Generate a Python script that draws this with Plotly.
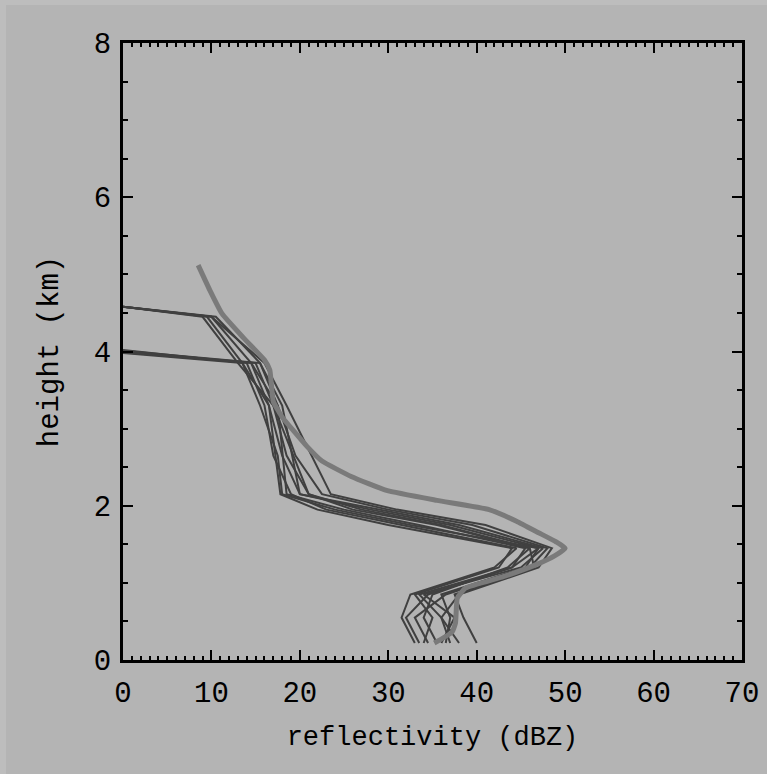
import plotly.graph_objects as go

# Mean profile (thick light line)
mean_dbz = [8.5, 9.8, 11.2, 13.6, 16.0, 16.6, 17.0, 18.0, 19.3, 20.8, 22.5, 25.8, 29.8, 35.5, 41.4, 44.5,
            47.0, 49.0, 50.0, 48.8, 47.0, 43.0, 38.7, 37.8, 37.6, 37.2, 35.2]
mean_hgt = [5.12, 4.80, 4.49, 4.18, 3.89, 3.76, 3.35, 3.15, 2.97, 2.77, 2.58, 2.38, 2.20, 2.07, 1.95, 1.80,
            1.65, 1.53, 1.45, 1.35, 1.25, 1.08, 0.93, 0.80, 0.48, 0.36, 0.22]

# Individual profiles (thin dark lines)
hgt_a = [4.58, 4.45, 3.85, 3.3, 2.15, 1.95, 1.75, 1.45, 1.2, 0.85, 0.55, 0.22]
hgt_b = [4.0, 3.85, 3.3, 2.65, 2.15, 1.95, 1.75, 1.45, 1.2, 0.85, 0.55, 0.22]
profiles_a = [
    [0, 9.5, 13.5, 16.5, 17.8, 22.0, 30.0, 44.0, 42.5, 33.0, 35.0, 34.0],
    [0, 10.0, 14.5, 17.5, 18.5, 25.0, 33.5, 45.5, 44.0, 34.5, 32.0, 33.5],
    [0, 10.5, 15.5, 18.0, 20.0, 28.0, 37.0, 47.0, 45.5, 36.0, 37.0, 36.5],
    [0, 9.0, 13.0, 17.0, 21.0, 26.0, 35.5, 46.0, 46.5, 37.5, 38.5, 40.0],
    [0, 10.0, 16.0, 18.5, 23.5, 31.0, 41.0, 48.5, 47.0, 38.0, 36.0, 37.0],
]
profiles_b = [
    [0, 14.0, 16.0, 17.0, 19.0, 23.0, 31.5, 44.5, 42.0, 32.5, 31.5, 33.0],
    [0, 15.0, 17.0, 18.5, 21.0, 27.0, 36.0, 46.0, 43.5, 35.0, 34.0, 35.5],
    [0, 13.5, 15.5, 17.5, 18.0, 24.0, 32.5, 47.0, 44.0, 33.5, 36.0, 38.0],
    [0, 15.5, 17.5, 19.5, 22.5, 30.0, 39.5, 48.0, 46.0, 36.5, 33.0, 34.5],
    [0, 14.5, 16.5, 18.0, 20.0, 29.0, 38.0, 47.5, 45.0, 34.0, 37.5, 36.0],
]
b_top_offsets = [0.02, 0.0, -0.02, 0.01, -0.01]

x_ticks = [0, 10, 20, 30, 40, 50, 60, 70]
y_ticks = [0, 2, 4, 6, 8]

BG = "#b4b4b4"
DARK = "#404040"
LIGHT = "#7a7a7a"
FONT = "Liberation Mono"

fig = go.Figure()
for p in profiles_a:
    fig.add_trace(go.Scatter(x=p, y=hgt_a, mode="lines",
                             line=dict(color=DARK, width=2), hoverinfo="skip"))
for p, off in zip(profiles_b, b_top_offsets):
    h = [hgt_b[0] + off] + hgt_b[1:]
    fig.add_trace(go.Scatter(x=p, y=h, mode="lines",
                             line=dict(color=DARK, width=2), hoverinfo="skip"))
fig.add_trace(go.Scatter(x=mean_dbz, y=mean_hgt, mode="lines",
                         line=dict(color=LIGHT, width=5, shape="spline", smoothing=0.4),
                         hoverinfo="skip"))

W, H = 767, 774
L, R, T, B = 123, 25, 43, 114
pw, ph = W - L - R, H - T - B

fig.add_shape(type="rect", xref="paper", yref="paper", layer="below",
              x0=(6 - L) / pw, x1=(W - L + 5) / pw,
              y0=-(B + 5) / ph, y1=(ph + T - 5) / ph,
              fillcolor=BG, line=dict(width=0))

axis_common = dict(
    showgrid=False, zeroline=False, showline=True, linecolor="black",
    linewidth=3, mirror="ticks", ticks="inside", tickcolor="black",
    tickwidth=2, ticklen=10, automargin=False,
    tickfont=dict(family=FONT, size=29, color="black"),
)

fig.update_xaxes(range=[0, 70], tickvals=x_ticks, ticktext=[str(v) for v in x_ticks],
                 minor=dict(dtick=1, ticks="inside", ticklen=4, tickwidth=2, tickcolor="black"),
                 ticklabelstandoff=4,
                 title=dict(text="reflectivity (dBZ)", font=dict(family=FONT, size=27, color="black"), standoff=17),
                 **axis_common)
fig.update_yaxes(range=[0, 8], tickvals=y_ticks, ticktext=[str(v) for v in y_ticks],
                 minor=dict(dtick=0.5, ticks="inside", ticklen=5, tickwidth=2, tickcolor="black"),
                 ticklabelstandoff=3,
                 title=dict(text="height (km)", font=dict(family=FONT, size=29, color="black"), standoff=27),
                 **axis_common)

fig.update_layout(
    width=W, height=H, showlegend=False,
    margin=dict(l=L, r=R, t=T, b=B, pad=0),
    paper_bgcolor="#bdbdbd", plot_bgcolor="rgba(0,0,0,0)",
)
fig.write_html("out.html", config={"displayModeBar": False},
               post_script="document.body.style.margin='0';")
